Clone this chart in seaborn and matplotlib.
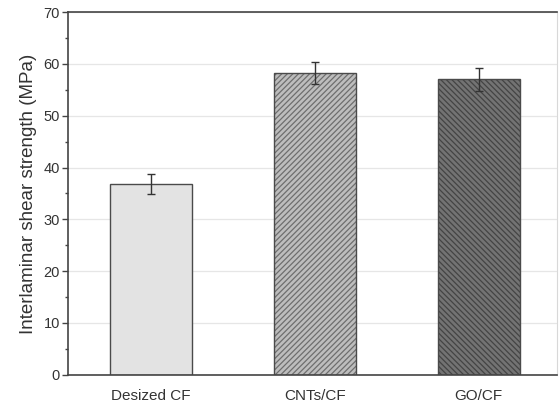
import matplotlib
matplotlib.use("Agg")
import matplotlib.pyplot as plt
import seaborn as sns
import pandas as pd
import numpy as np

samples = ["Desized CF", "CNTs/CF", "GO/CF"]
ilss = [36.8, 58.3, 57.0]
ilss_err = [2.0, 2.1, 2.2]

fills = ["#e3e3e3", "#bdbdbd", "#737373"]
hatches = [None, "//////", "\\\\\\\\\\\\"]
hatch_colors = ["#555555", "#6e6e6e", "#444444"]

sns.set_theme(style="white")
plt.rcParams["font.family"] = ["Liberation Sans", "DejaVu Sans"]
plt.rcParams["hatch.linewidth"] = 0.9

df = pd.DataFrame({"sample": samples, "ilss": ilss})

fig, ax = plt.subplots(figsize=(5.59, 4.03), dpi=100)
fig.subplots_adjust(left=0.122, right=0.997, top=0.970, bottom=0.070)

sns.barplot(data=df, x="sample", y="ilss", order=samples, ax=ax,
            width=0.5, errorbar=None, palette=fills, hue="sample",
            legend=False, linewidth=1.0, edgecolor="#4a4a4a", zorder=2)

for patch, h, hc in zip(ax.patches, hatches, hatch_colors):
    if h:
        patch.set_hatch(h)
        patch._hatch_color = matplotlib.colors.to_rgba(hc)

ax.errorbar(np.arange(len(samples)), ilss, yerr=ilss_err, fmt="none",
            ecolor="#333333", elinewidth=1.0, capsize=2.6, capthick=1.0, zorder=3)

ax.set_ylim(0, 70)
ax.set_xlim(-0.503, 2.48)
ax.set_yticks(range(0, 71, 10))
ax.set_yticks(range(5, 70, 10), minor=True)
ax.yaxis.grid(True, color="#e6e6e6", linewidth=0.9, zorder=0)
ax.set_axisbelow(True)

ax.set_xlabel("")
ax.set_ylabel("Interlaminar shear strength (MPa)", fontsize=13.5,
              family=["Liberation Sans Narrow", "Liberation Sans", "DejaVu Sans"],
              color="#333333", labelpad=5)
ax.tick_params(axis="y", which="major", direction="out", length=4, width=1,
               color="#444444", left=True, labelsize=10.5, labelcolor="#333333", pad=2)
ax.tick_params(axis="y", which="minor", direction="out", length=2.5, width=1,
               color="#444444", left=True)
ax.tick_params(axis="x", bottom=False, labelsize=11, labelcolor="#333333", pad=4)

for side in ["left", "bottom", "top"]:
    ax.spines[side].set_color("#444444")
    ax.spines[side].set_linewidth(1.2)
ax.spines["right"].set_color("#d8d8d8")
ax.spines["right"].set_linewidth(0.8)

fig.savefig("out.png", dpi=100)
